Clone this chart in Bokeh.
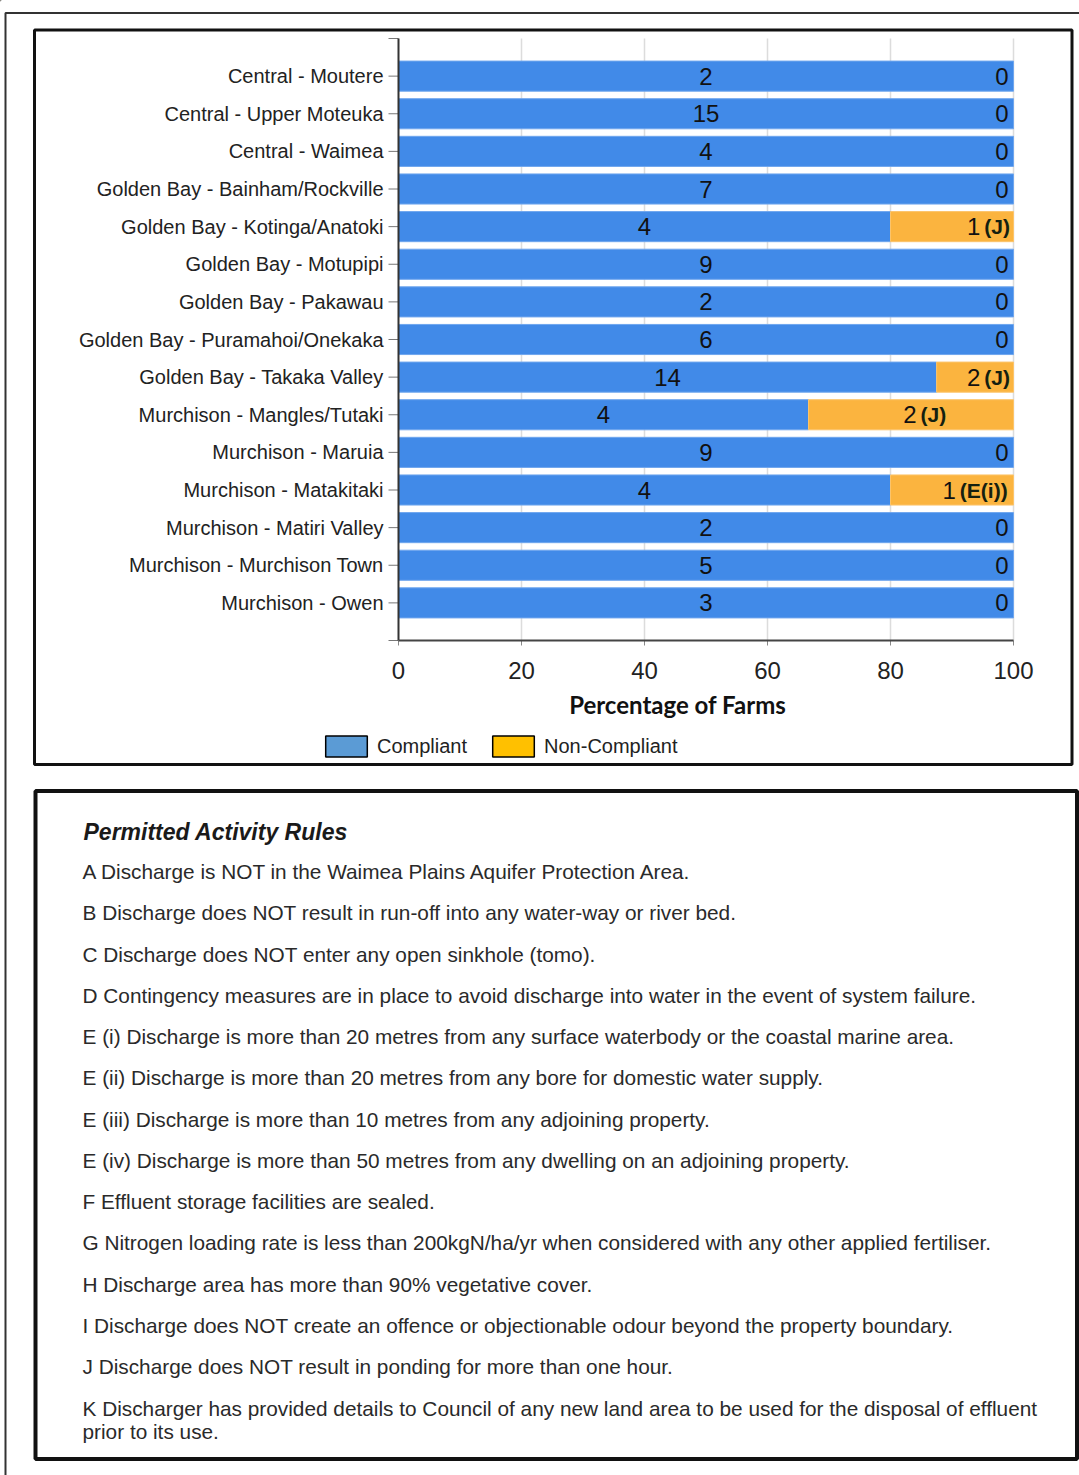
from bokeh.plotting import figure
from bokeh.models import Range1d, Legend, LegendItem, ColumnDataSource
from bokeh.core.properties import value
from bokeh.embed import file_html
from bokeh.resources import INLINE

# ---------------- data ----------------
regions = [
    "Central - Moutere",
    "Central - Upper Moteuka",
    "Central - Waimea",
    "Golden Bay - Bainham/Rockville",
    "Golden Bay - Kotinga/Anatoki",
    "Golden Bay - Motupipi",
    "Golden Bay - Pakawau",
    "Golden Bay - Puramahoi/Onekaka",
    "Golden Bay - Takaka Valley",
    "Murchison - Mangles/Tutaki",
    "Murchison - Maruia",
    "Murchison - Matakitaki",
    "Murchison - Matiri Valley",
    "Murchison - Murchison Town",
    "Murchison - Owen",
]
compliant = [2, 15, 4, 7, 4, 9, 2, 6, 14, 4, 9, 4, 2, 5, 3]
non_compliant = [0, 0, 0, 0, 1, 0, 0, 0, 2, 2, 0, 1, 0, 0, 0]
rule_breached = ["", "", "", "", "J", "", "", "", "J", "J", "", "E(i)", "", "", ""]
x_ticks = [0, 20, 40, 60, 80, 100]
x_title = "Percentage of Farms"
legend_labels = ["Compliant", "Non-Compliant"]

rules_title = "Permitted Activity Rules"
rules = [
    "A Discharge is NOT in the Waimea Plains Aquifer Protection Area.",
    "B Discharge does NOT result in run-off into any water-way or river bed.",
    "C Discharge does NOT enter any open sinkhole (tomo).",
    "D Contingency measures are in place to avoid discharge into water in the event of system failure.",
    "E (i) Discharge is  more than 20 metres from any surface waterbody or the coastal marine area.",
    "E (ii) Discharge is more than 20 metres from any bore for domestic water supply.",
    "E (iii) Discharge is more than 10 metres from any adjoining property.",
    "E (iv) Discharge is more than 50 metres from any dwelling on an adjoining property.",
    "F Effluent storage facilities are sealed.",
    "G Nitrogen loading rate is less than 200kgN/ha/yr when considered with any other applied fertiliser.",
    "H Discharge area has more than 90% vegetative cover.",
    "I Discharge does NOT create an offence or objectionable odour beyond the property boundary.",
    "J Discharge does NOT result in ponding for more than one hour.",
    "K Discharger has provided details to Council of any new land area to be used for the disposal of effluent",
]
rules_continuation = "prior to its use."

# ---------------- derived ----------------
n = len(regions)
idx = list(range(n))
totals = [c + k for c, k in zip(compliant, non_compliant)]
comp_pct = [100.0 * c / t for c, t in zip(compliant, totals)]
nc_pct = [100.0 - c for c in comp_pct]

BLUE = "#418AE8"
ORANGE = "#FBB43F"
FONT = "Liberation Sans"

W, H = 1079, 1475
# plot area on the page (pixels)
PX0, PX1 = 398, 1013     # x: 0% .. 100%
PY0, PY1 = 38, 640       # y: category -1 .. n (band edges of the axis)

# the figure's frame is the whole page; chart coordinates go through extra ranges
ppx = (PX1 - PX0) / 100.0
ppy = (PY1 - PY0) / float(n + 1)
pct_range = Range1d(0 - PX0 / ppx, 100 + (W - PX1) / ppx)
cat_range = Range1d(n + (H - PY1) / ppy, -1 - PY0 / ppy)

p = figure(width=W, height=H, output_backend="svg", toolbar_location=None,
           x_range=Range1d(0, W), y_range=Range1d(H, 0),
           x_axis_location=None, y_axis_location=None, min_border=0,
           background_fill_color="white", border_fill_color="white")
p.outline_line_color = None
p.grid.visible = False
p.extra_x_ranges = {"pct": pct_range}
p.extra_y_ranges = {"cat": cat_range}
C = dict(x_range_name="pct", y_range_name="cat")

# ---- grid lines ----
p.segment(x0=x_ticks[1:], x1=x_ticks[1:], y0=[-1] * (len(x_ticks) - 1),
          y1=[n] * (len(x_ticks) - 1), line_color="#dcdcdc", line_width=1.5, **C)

# ---- bars ----
src = ColumnDataSource(dict(y=idx, comp=comp_pct))
p.hbar(y="y", left=0, right="comp", height=0.8, source=src,
       fill_color=BLUE, line_color="#6FA6EE", line_width=1, **C)
nc_idx = [i for i in idx if non_compliant[i] > 0]
nc_src = ColumnDataSource(dict(y=nc_idx, left=[comp_pct[i] for i in nc_idx]))
p.hbar(y="y", left="left", right=100, height=0.8, source=nc_src,
       fill_color=ORANGE, line_color="#FCC46A", line_width=1, **C)

# ---- value labels ----
p.text(x=[c / 2.0 for c in comp_pct], y=idx, text=[str(c) for c in compliant],
       text_align="center", text_baseline="middle", text_font=value(FONT),
       text_font_size="24px", text_color="#111111", **C)

cnt_x, cnt_y, cnt_t = [], [], []
rule_x, rule_y, rule_t = [], [], []
for i in idx:
    if non_compliant[i] == 0:
        cnt_x.append(99.2); cnt_y.append(i); cnt_t.append("0")
    else:
        tag = "(" + rule_breached[i] + ")"
        if nc_pct[i] > 25:          # wide segment: label near its middle
            anchor = comp_pct[i] + nc_pct[i] / 2.0 + 0.9
        else:                       # narrow segment: label at the inside end
            anchor = 100 - 1.4 - 1.33 * len(tag)
        cnt_x.append(anchor); cnt_y.append(i); cnt_t.append(str(non_compliant[i]))
        rule_x.append(anchor); rule_y.append(i); rule_t.append(tag)

p.text(x=cnt_x, y=cnt_y, text=cnt_t, text_align="right", text_baseline="middle",
       text_font=value(FONT), text_font_size="24px", text_color="#111111", **C)
p.text(x=rule_x, y=rule_y, text=rule_t, text_align="left", text_baseline="middle",
       x_offset=4, text_font=value(FONT), text_font_size="21px",
       text_font_style="bold", text_color="#142010", **C)

# ---- y axis (drawn) ----
y_tick_vals = [-1] + idx + [n]
ytick_len = 10 / ppx
p.segment(x0=[-ytick_len] * len(y_tick_vals), x1=[0] * len(y_tick_vals),
          y0=y_tick_vals, y1=y_tick_vals, line_color="#777777", line_width=1, **C)
p.segment(x0=[0], x1=[0], y0=[-1], y1=[n], line_color="#333333", line_width=2, **C)
p.text(x=[0] * n, y=idx, text=regions, x_offset=-15, y_offset=0,
       text_align="right", text_baseline="middle", text_font=value(FONT),
       text_font_size="20px", text_color="#222222", **C)

# ---- x axis (drawn) ----
xtick_len = 5 / ppy
p.segment(x0=x_ticks, x1=x_ticks, y0=[n] * len(x_ticks),
          y1=[n + xtick_len] * len(x_ticks), line_color="#888888", line_width=1, **C)
p.segment(x0=[0], x1=[100], y0=[n], y1=[n], line_color="#444444", line_width=2, **C)
p.text(x=x_ticks, y=[n] * len(x_ticks), text=[str(t) for t in x_ticks],
       y_offset=30, text_align="center", text_baseline="middle",
       text_font=value(FONT), text_font_size="24px", text_color="#222222", **C)
p.text(x=[45.4], y=[n], text=[x_title], y_offset=64, text_align="center",
       text_baseline="middle", text_font=value("Lato"), text_font_style="bold",
       text_font_size="24px", text_color="#111111", **C)

# ---- legend (swatch renderers sit far off-page so only the legend shows them) ----
r_c = p.hbar(y=[-500], left=[-900], right=[-899], height=0.8, fill_color="#5B9BD5",
             line_color="black", line_width=1.5, **C)
r_n = p.hbar(y=[-500], left=[-900], right=[-899], height=0.8, fill_color="#FFC000",
             line_color="black", line_width=1.5, **C)
legend = Legend(items=[LegendItem(label=legend_labels[0], renderers=[r_c]),
                       LegendItem(label=legend_labels[1], renderers=[r_n])],
                orientation="horizontal", location=(320, H - 759),
                border_line_color=None, background_fill_alpha=0,
                padding=0, margin=0, spacing=20, glyph_width=52, glyph_height=26,
                label_text_font=FONT, label_text_font_size="20px",
                label_text_color="#222222", label_standoff=5, label_height=26)
p.add_layout(legend, "center")

# ---- page frames (page pixel coordinates) ----
p.quad(left=[5], right=[1110], top=[12.5], bottom=[1510], fill_alpha=0,
       line_color="#333333", line_width=2)
p.quad(left=[34], right=[1071.5], top=[29.5], bottom=[764], fill_alpha=0,
       line_color="#111111", line_width=3)
p.quad(left=[35], right=[1076.5], top=[790.5], bottom=[1458.5], fill_alpha=0,
       line_color="#111111", line_width=4)

# ---- rules text ----
line_y0, line_dy = 871, 41.27
p.text(x=[83], y=[831], text=[rules_title], text_font=value(FONT),
       text_font_size="23px", text_font_style="bold italic", text_color="#1a1a1a",
       text_baseline="middle", text_align="left")
ys = [line_y0 + k * line_dy for k in range(len(rules))]
p.text(x=[82] * len(rules), y=ys, text=rules, text_font=value(FONT),
       text_font_size="20.8px", text_color="#2a2a2a", text_baseline="middle",
       text_align="left")
p.text(x=[82], y=[ys[-1] + 23], text=[rules_continuation], text_font=value(FONT),
       text_font_size="20.8px", text_color="#2a2a2a", text_baseline="middle",
       text_align="left")

open("out.html", "w").write(file_html(p, INLINE))
